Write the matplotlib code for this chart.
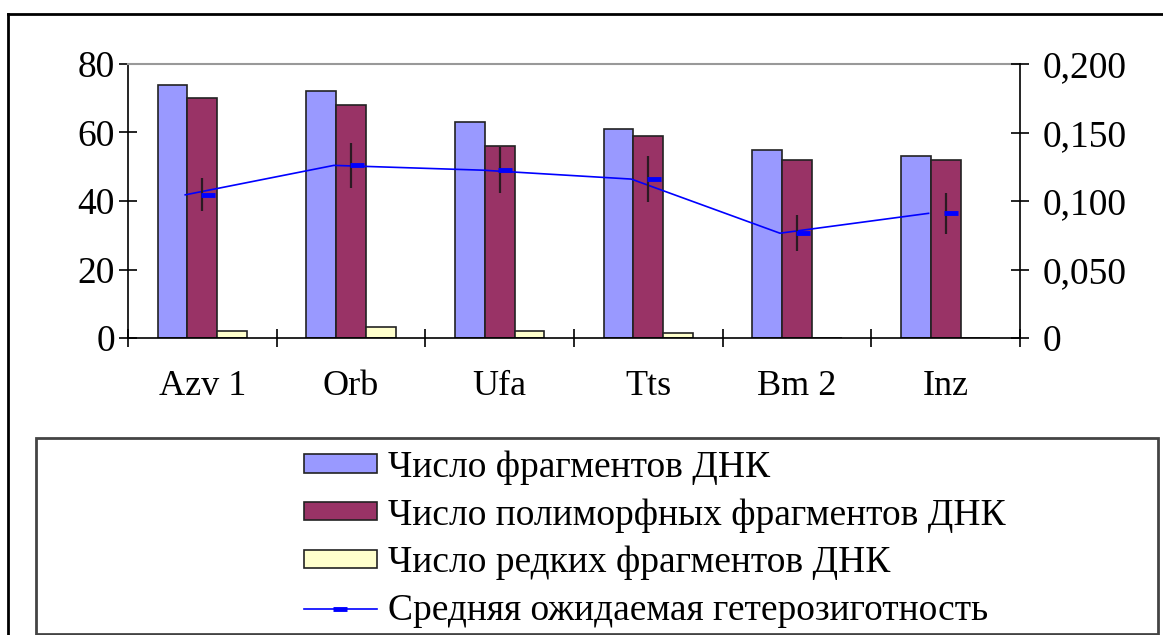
import matplotlib
matplotlib.use("Agg")
import matplotlib.pyplot as plt
from matplotlib.lines import Line2D
from matplotlib.patches import Rectangle, Patch
import numpy as np

categories = ["Azv 1", "Orb", "Ufa", "Tts", "Bm 2", "Inz"]
total_fragments = [74, 72, 63, 61, 55, 53]
polymorphic_fragments = [70, 68, 56, 59, 52, 52]
rare_fragments = [2, 3.3, 2, 1.4, 0, 0]
heterozygosity = [0.1045, 0.126, 0.1225, 0.116, 0.0765, 0.091]
heterozygosity_err = [0.012, 0.0166, 0.017, 0.0168, 0.0133, 0.0148]

left_ticks = [0, 20, 40, 60, 80]
right_ticks = [0, 0.05, 0.10, 0.15, 0.20]
right_tick_labels = ["0", "0,050", "0,100", "0,150", "0,200"]

legend_labels = ["Число фрагментов ДНК", "Число полиморфных фрагментов ДНК",
                 "Число редких фрагментов ДНК", "Средняя ожидаемая гетерозиготность"]

plt.rcParams['font.family'] = ['Liberation Serif', 'DejaVu Serif']
FS_TICK = 27
FS_CAT = 26
FS_LEG = 27

W, H = 1163, 635
fig = plt.figure(figsize=(W / 100, H / 100), dpi=100)
fig.patch.set_facecolor('white')

def fx(px):
    return px / W

def fy(py):
    return 1 - py / H

ax = fig.add_axes([fx(128), fy(338), fx(1020) - fx(128), fy(64) - fy(338)])
ax2 = ax.twinx()

n = len(categories)
centers = np.arange(n) + 0.5
bw = 0.2
c_blue = '#9999FF'
c_maroon = '#993366'
c_yellow = '#FFFFCC'
ec = '#222222'

ax.bar(centers - bw, total_fragments, bw, color=c_blue, edgecolor=ec, linewidth=1.2, zorder=2)
ax.bar(centers, polymorphic_fragments, bw, color=c_maroon, edgecolor=ec, linewidth=1.2, zorder=2)
ax.bar(centers + bw, rare_fragments, bw, color=c_yellow, edgecolor=ec, linewidth=1.2, zorder=2)

ax.set_xlim(0, n)
ax.set_ylim(0, 80)
ax.set_yticks(left_ticks)
ax.set_yticklabels([str(t) for t in left_ticks], fontsize=FS_TICK)
ax.tick_params(axis='y', direction='inout', length=13, width=1.2, pad=3)

ax.set_xticks(np.arange(n + 1))
ax.set_xticklabels([])
ax.set_xticks(centers, minor=True)
ax.set_xticklabels(categories, minor=True, fontsize=FS_CAT)
ax.tick_params(axis='x', which='major', direction='inout', length=13, width=1.2)
ax.tick_params(axis='x', which='minor', length=0, pad=23)

ax.spines['top'].set_color('#999999')
ax.spines['top'].set_linewidth(1.5)
ax.spines['right'].set_visible(False)
ax.spines['left'].set_linewidth(1.2)
ax.spines['bottom'].set_linewidth(1.2)

# secondary axis line
line_x = centers - 0.115
ax2.plot(line_x, heterozygosity, color='#0000FF', linewidth=1.2, zorder=3)
ax2.errorbar(centers, heterozygosity, yerr=heterozygosity_err, fmt='none',
             ecolor='#2a1a22', elinewidth=1.6, capsize=0, zorder=4)
ax2.plot(centers + 0.037, heterozygosity, linestyle='none', marker='_',
         markersize=10, markeredgewidth=3.5, color='#0000FF', zorder=5)
ax2.set_ylim(0, 0.2)
ax2.set_yticks(right_ticks)
ax2.set_yticklabels(right_tick_labels, fontsize=FS_TICK)
ax2.tick_params(axis='y', direction='inout', length=13, width=1.2, pad=10)
ax2.spines['top'].set_visible(False)
ax2.spines['left'].set_visible(False)
ax2.spines['bottom'].set_visible(False)
ax2.spines['right'].set_linewidth(1.2)
ax2.set_xlim(0, n)

# outer frame lines
fig.add_artist(Line2D([fx(8), fx(8)], [fy(14), 0], color='black', linewidth=2))
fig.add_artist(Line2D([fx(8), 1], [fy(14), fy(14)], color='black', linewidth=2))

# legend box
fig.add_artist(Rectangle((fx(36), fy(634)), fx(1158) - fx(36), fy(438) - fy(634),
                         fill=False, edgecolor='#444444', linewidth=2))

handles = [
    Patch(facecolor=c_blue, edgecolor=ec, linewidth=1.2),
    Patch(facecolor=c_maroon, edgecolor=ec, linewidth=1.2),
    Patch(facecolor=c_yellow, edgecolor=ec, linewidth=1.2),
    Line2D([0], [0], color='#0000FF', linewidth=1.2, marker='_', markersize=10,
           markeredgewidth=3.5),
]
fig.legend(handles, legend_labels, loc='upper left',
           bbox_to_anchor=(fx(296), fy(443)), frameon=False, fontsize=FS_LEG,
           handlelength=1.97, handleheight=0.37, handletextpad=0.29,
           labelspacing=0.35, borderaxespad=0, borderpad=0.2)

fig.savefig('out.png', dpi=100, facecolor='white')
